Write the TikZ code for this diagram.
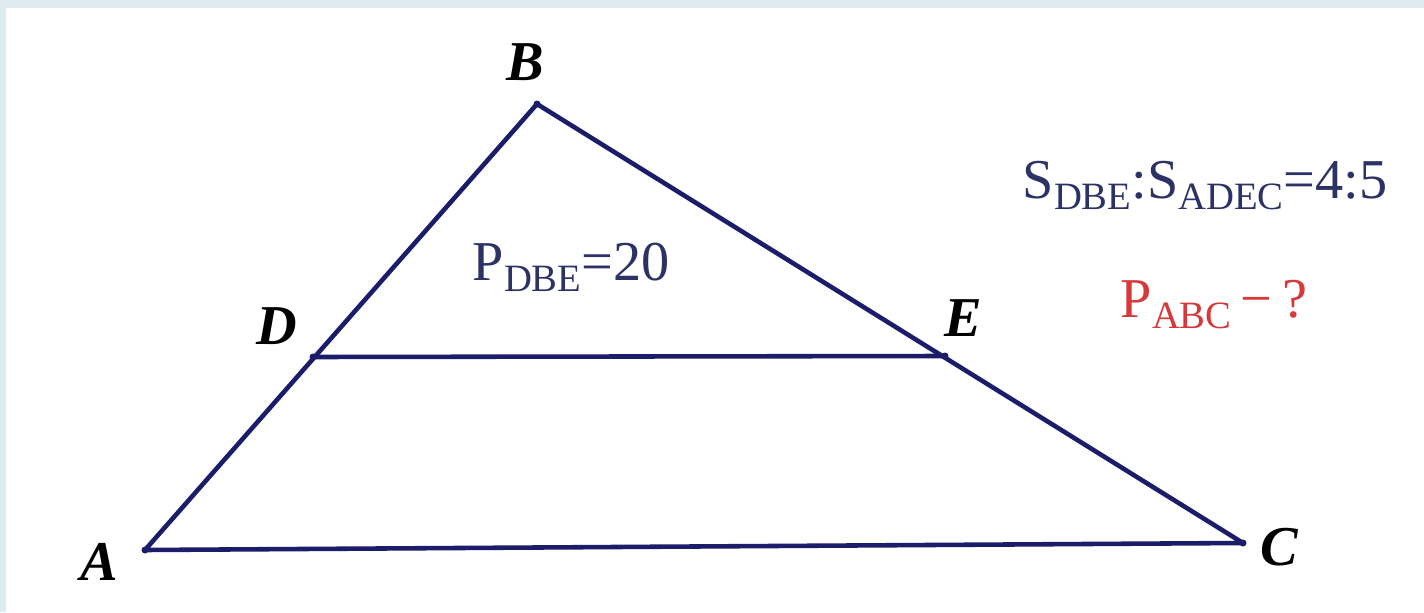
\documentclass[tikz,border=0pt]{standalone}
\usepackage{fontspec}
\setmainfont{Liberation Serif}
\usetikzlibrary{positioning}
\definecolor{trnavy}{HTML}{1C1D6A}
\definecolor{trslate}{HTML}{2C3266}
\definecolor{trred}{HTML}{D8383A}
\definecolor{trframe}{HTML}{DDEBF1}
\newcommand{\lowsub}[1]{\raisebox{-3.2pt}{\fontsize{11}{13}\selectfont #1}}

\begin{document}
\begin{tikzpicture}[x=0.01cm,y=-0.01cm,
      seg/.style={draw=trnavy,line width=1.3pt,line join=round},
      vlbl/.style={font=\fontsize{16}{19}\selectfont\bfseries\itshape,text=black,inner sep=0pt},
      note/.style={font=\fontsize{16}{19}\selectfont,text=trslate,inner sep=0pt,anchor=base west}]
    % frame
    \fill[trframe] (0,0) rectangle (1424,612);
    \fill[white] (6,8) rectangle (1424,612);
    \useasboundingbox (0,0) rectangle (1424,612);
    % points
    \coordinate (A) at (145,550);
    \coordinate (B) at (537,104);
    \coordinate (C) at (1243,543);
    \coordinate (D) at (313,357);
    \coordinate (E) at (945,356);
    \draw[seg] (A) -- (B) -- (C) -- cycle;
    \draw[seg] (D) -- (E);
    \foreach \p in {A,B,C,D,E}
      \fill[trnavy] (\p) circle (3.5);
    % vertex labels
    \node[vlbl] (lA) at (99,562) {A};
    \node[vlbl] (lB) at (525,62) {B};
    \node[vlbl] (lC) at (1279,547) {C};
    \node[vlbl] (lD) at (277,326) {D};
    \node[vlbl] (lE) at (963,318) {E};
    % given data
    \node[note] (per) at (472,280) {P\lowsub{DBE}=20};
    \node[note] (ratio) at (1022,198) {S\lowsub{DBE}:S\lowsub{ADEC}=4:5};
    \node[note,text=trred] (ask) at (1120,317) {P\lowsub{ABC}\,\symbol{"2212}\,?};
  \end{tikzpicture}
\end{document}
